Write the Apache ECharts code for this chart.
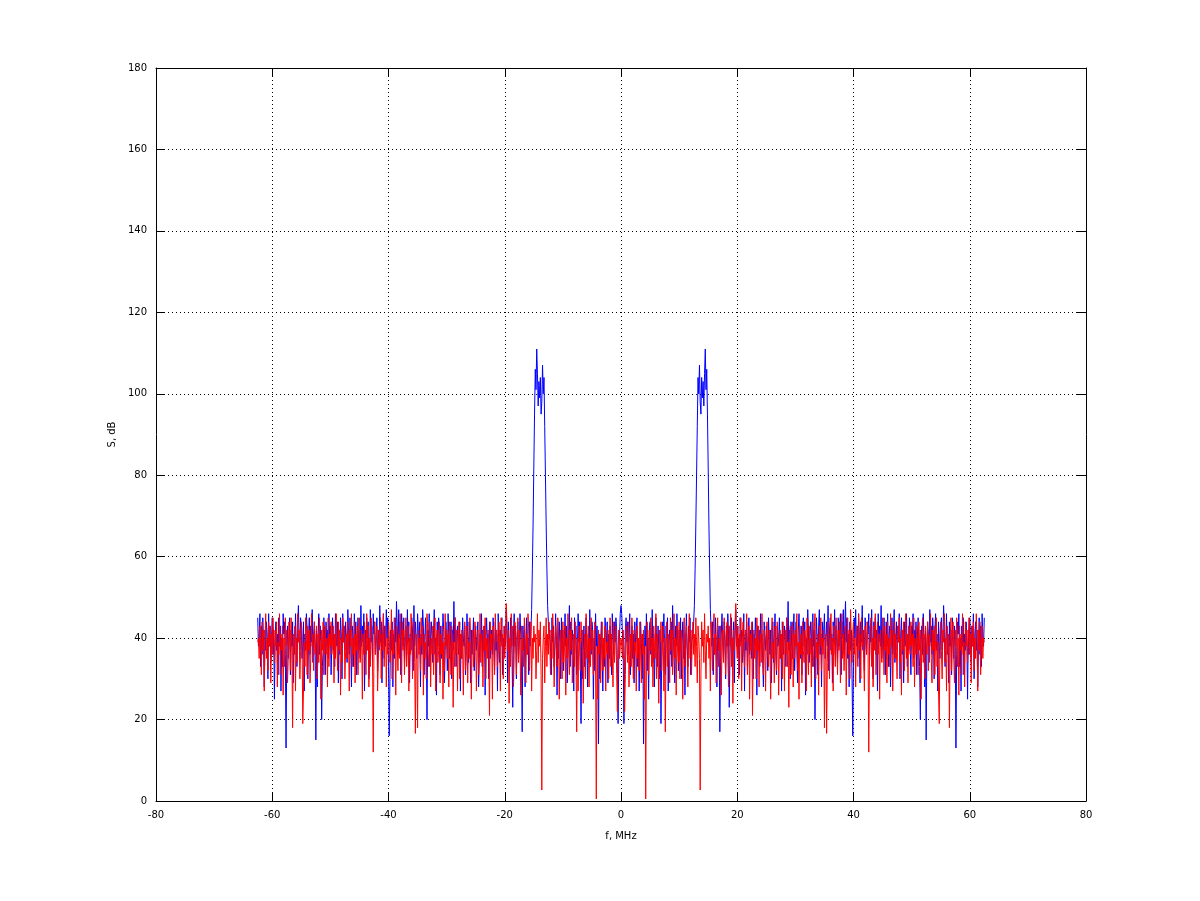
<!DOCTYPE html>
<html>
<head>
<meta charset="utf-8">
<script src="https://cdn.jsdelivr.net/npm/echarts@6/dist/echarts.min.js"></script>
<style>
  html, body { margin: 0; padding: 0; background: #fff; }
  #chart { width: 1200px; height: 901px; }
</style>
</head>
<body>
<div id="chart"></div>
<script>
// spectrum is symmetric around 0, values below are for f = 0 .. 62.5 MHz, step 0.125
var freqStep = 0.125;

var blueHalf = [
  48, 46, 41, 37, 19, 33, 42, 45, 39, 44, 36, 40, 46, 31, 38, 43, 35, 41, 29, 44,
  37, 42, 45, 33, 40, 27, 36, 44, 39, 30, 41, 14, 34, 43, 38, 46, 32, 40, 25, 42,
  44, 36, 39, 47, 34, 41, 28, 38, 45, 40, 33, 43, 37, 30, 42, 19, 35, 44, 39, 46,
  38, 31, 43, 40, 45, 27, 39, 42, 36, 44, 33, 48, 41, 35, 29, 43, 38, 46, 40, 32,
  42, 37, 45, 30, 39, 44, 35, 41, 26, 40, 46, 38, 33, 43, 39, 45, 31, 37, 42, 40,
  44, 48, 57, 68, 80, 92, 104, 100, 107, 98, 95, 104, 99, 103, 97, 105, 111, 101, 106, 95,
  82, 68, 57, 47, 42, 38, 44, 31, 40, 36, 45, 39, 28, 42, 37, 43, 17, 34, 41, 46,
  39, 35, 44, 40, 30, 43, 38, 46, 41, 23, 36, 42, 45, 33, 39, 44, 29, 41, 47, 38,
  43, 36, 40, 31, 45, 39, 42, 34, 38, 46, 27, 41, 37, 44, 32, 40, 45, 36, 42, 39,
  35, 44, 30, 41, 38, 45, 40, 26, 43, 37, 42, 33, 46, 39, 41, 35, 28, 44, 40, 37,
  43, 38, 32, 45, 40, 36, 42, 29, 39, 44, 34, 41, 46, 37, 31, 43, 38, 40, 45, 35,
  41, 27, 44, 38, 36, 43, 40, 33, 45, 39, 49, 37, 42, 30, 44, 38, 35, 41, 46, 32,
  40, 44, 37, 29, 42, 46, 39, 35, 43, 31, 41, 45, 38, 44, 26, 40, 36, 47, 42, 34,
  39, 44, 41, 33, 46, 38, 42, 20, 37, 45, 40, 31, 43, 47, 36, 41, 28, 44, 39, 42,
  46, 35, 40, 44, 38, 48, 32, 42, 45, 37, 41, 29, 44, 39, 47, 36, 43, 40, 34, 45,
  38, 42, 46, 31, 44, 40, 47, 36, 43, 49, 39, 45, 35, 41, 28, 44, 37, 42, 30, 16,
  33, 45, 40, 47, 38, 43, 35, 46, 41, 29, 44, 39, 48, 37, 42, 32, 45, 40, 36, 44,
  41, 46, 34, 43, 39, 47, 37, 30, 44, 40, 45, 36, 42, 27, 46, 39, 43, 38, 48, 35,
  42, 37, 45, 40, 31, 44, 38, 46, 33, 41, 43, 28, 39, 45, 36, 42, 47, 34, 40, 44,
  37, 43, 39, 46, 30, 41, 45, 36, 42, 29, 44, 38, 40, 46, 33, 41, 37, 45, 39, 31,
  43, 40, 46, 35, 42, 38, 44, 31, 41, 45, 37, 33, 20, 39, 43, 36, 46, 40, 28, 42,
  15, 38, 44, 41, 34, 47, 39, 43, 36, 45, 40, 30, 42, 46, 37, 41, 27, 44, 38, 35,
  42, 45, 37, 40, 48, 43, 33, 39, 46, 36, 41, 29, 44, 38, 42, 31, 45, 40, 35, 43,
  38, 13, 36, 44, 41, 46, 33, 40, 27, 43, 38, 45, 31, 41, 37, 44, 39, 25, 42, 36,
  45, 40, 34, 43, 38, 46, 30, 41, 44, 37, 42, 28, 39, 45, 36, 43, 33, 46, 40, 38,
  45
];

var redHalf = [
  40, 38, 35, 42, 37, 22, 31, 43, 39, 34, 44, 28, 36, 41, 33, 45, 38, 30, 42, 36,
  39, 27, 43, 35, 40, 32, 44, 37, 29, 41, 36, 42, 25, 38, 0.5, 33, 44, 39, 31, 42,
  37, 45, 33, 40, 28, 43, 38, 35, 46, 30, 41, 36, 24, 42, 39, 44, 32, 38, 43, 27,
  40, 17, 36, 44, 33, 41, 38, 29, 45, 37, 42, 31, 39, 46, 35, 40, 26, 43, 38, 34,
  44, 30, 39, 42, 36, 25, 41, 45, 33, 38, 43, 37, 28, 40, 46, 35, 42, 31, 39, 44,
  36, 41, 33, 45, 38, 29, 43, 40, 35, 2.7, 31, 44, 38, 42, 34, 46, 37, 30, 41, 39,
  43, 35, 40, 27, 44, 38, 32, 42, 46, 36, 41, 29, 39, 45, 33, 40, 37, 43, 26, 38,
  42, 34, 45, 39, 31, 41, 44, 36, 28, 43, 38, 46, 33, 40, 24, 42, 37, 44, 48.5, 39,
  35, 43, 30, 41, 38, 45, 27, 40, 44, 36, 33, 42, 39, 46, 31, 38, 43, 25, 41, 37,
  44, 21, 38, 42, 35, 40, 30, 45, 37, 43, 28, 39, 41, 34, 46, 36, 31, 42, 38, 27,
  40, 44, 36, 33, 42, 38, 25, 41, 45, 35, 39, 29, 43, 37, 32, 44, 40, 26, 38, 42,
  35, 41, 30, 44, 38, 27, 42, 36, 45, 33, 39, 23, 40, 43, 31, 37, 44, 28, 41, 35,
  42, 38, 46, 32, 39, 25, 43, 36, 41, 29, 44, 37, 34, 42, 40, 27, 45, 38, 31, 43,
  36, 40, 28, 44, 37, 33, 42, 46, 30, 39, 35, 41, 26, 43, 38, 45, 32, 40, 36, 42,
  18, 37, 41, 16.6, 34, 44, 39, 30, 42, 46, 36, 40, 27, 43, 38, 33, 45, 39, 31, 42,
  37, 44, 29, 40, 46, 35, 41, 32, 38, 43, 26, 39, 45, 36, 42, 30, 47, 38, 34, 41,
  44, 36, 40, 28, 43, 39, 33, 46, 37, 41, 30, 45, 38, 42, 35, 27, 43, 40, 36, 44,
  38, 12, 35, 42, 45, 33, 40, 28, 43, 37, 46, 31, 39, 44, 36, 41, 25, 42, 38, 34,
  45, 39, 31, 43, 37, 41, 29, 44, 36, 40, 33, 46, 38, 42, 27, 39, 44, 35, 41, 37,
  30, 43, 39, 45, 34, 40, 26, 42, 37, 44, 32, 38, 46, 35, 41, 29, 43, 39, 36, 44,
  38, 41, 33, 45, 28, 40, 36, 43, 39, 31, 44, 37, 42, 25, 38, 45, 34, 41, 30, 43,
  39, 36, 44, 32, 41, 38, 46, 35, 29, 42, 37, 43, 31, 40, 45, 33, 39, 27, 19, 41,
  44, 37, 30, 42, 39, 46, 34, 40, 27, 43, 36, 41, 18, 38, 45, 32, 40, 44, 35, 29,
  42, 38, 45, 33, 40, 26, 43, 37, 41, 31, 46, 36, 39, 28, 44, 38, 42, 34, 40, 45,
  36, 41, 29, 43, 38, 44, 32, 40, 35, 46, 39, 27, 42, 37, 44, 31, 38, 43, 35, 40,
  39
];

var xTicks = { min: -80, max: 80, step: 20 };
var yTicks = { min: 0, max: 180, step: 20 };

function mirror(half) {
  var pts = [];
  for (var i = half.length - 1; i > 0; i--) pts.push([-i * freqStep, half[i]]);
  for (var j = 0; j < half.length; j++) pts.push([j * freqStep, half[j]]);
  return pts;
}

var font = "'DejaVu Sans', sans-serif";
var dotted = { show: true, lineStyle: { color: "#000", width: 1, type: [1, 3] } };
var axLine = { show: true, onZero: false, lineStyle: { color: "#000", width: 1 } };
var tick = { show: true, inside: true, length: 9, lineStyle: { color: "#000" } };
var label = { color: "#000", fontFamily: font, fontSize: 10 };

var ec = echarts.init(document.getElementById("chart"), null, { renderer: "canvas" });
ec.setOption({
  animation: false,
  backgroundColor: "#fff",
  grid: { left: 156, right: 114, top: 68, bottom: 100, containLabel: false },
  xAxis: [
    {
      type: "value", min: xTicks.min, max: xTicks.max, interval: xTicks.step,
      name: "f, MHz", nameLocation: "middle", nameGap: 30,
      nameTextStyle: label,
      axisLine: axLine, axisTick: tick, splitLine: dotted,
      axisLabel: Object.assign({ margin: 9 }, label)
    },
    {
      type: "value", position: "top", min: xTicks.min, max: xTicks.max, interval: xTicks.step,
      axisLine: axLine, axisTick: tick, splitLine: { show: false }, axisLabel: { show: false }
    }
  ],
  yAxis: [
    {
      type: "value", min: yTicks.min, max: yTicks.max, interval: yTicks.step,
      name: "S, dB", nameLocation: "middle", nameGap: 34,
      nameTextStyle: label,
      axisLine: axLine, axisTick: tick, splitLine: dotted,
      axisLabel: Object.assign({ margin: 9 }, label)
    },
    {
      type: "value", position: "right", min: yTicks.min, max: yTicks.max, interval: yTicks.step,
      axisLine: axLine, axisTick: tick, splitLine: { show: false }, axisLabel: { show: false }
    }
  ],
  series: [
    {
      name: "blue", type: "line", data: mirror(blueHalf),
      showSymbol: false, symbol: "none",
      lineStyle: { color: "#0000ff", width: 1 }, z: 2
    },
    {
      name: "red", type: "line", data: mirror(redHalf),
      showSymbol: false, symbol: "none",
      lineStyle: { color: "#ff0000", width: 1 }, z: 3
    }
  ]
});
</script>
</body>
</html>
